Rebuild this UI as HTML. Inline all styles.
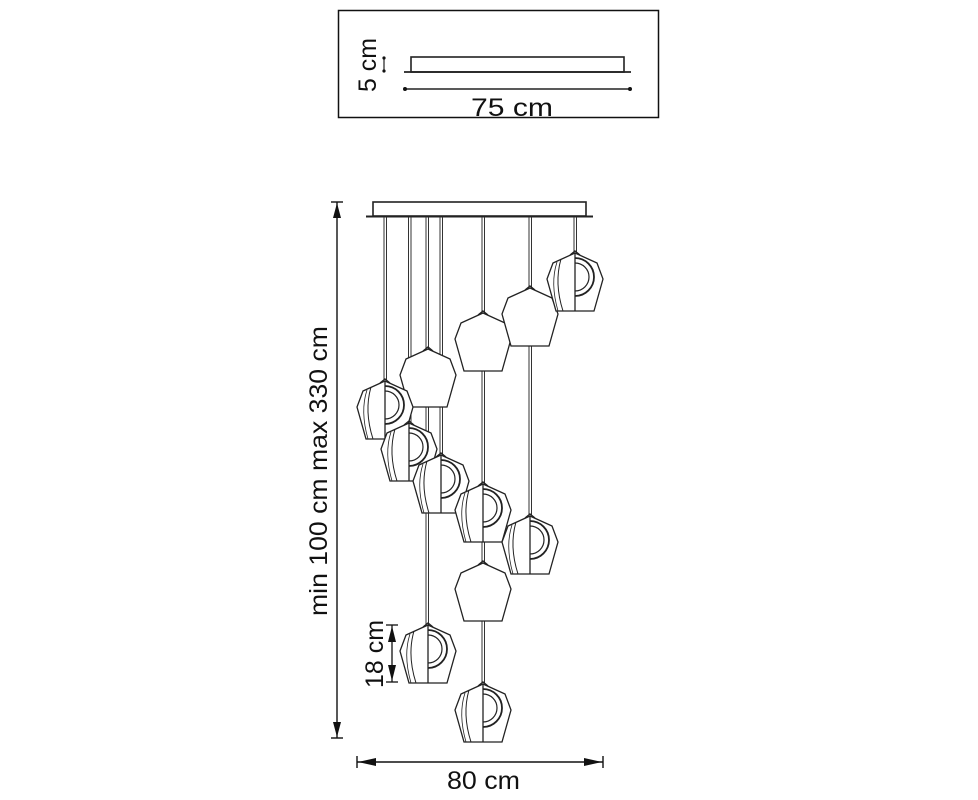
<!DOCTYPE html>
<html><head><meta charset="utf-8"><style>
html,body{margin:0;padding:0;background:#fff;}
svg{display:block;}
text{font-family:"Liberation Sans",sans-serif;fill:#111;}
</style></head><body>
<svg width="978" height="800" viewBox="0 0 978 800" xmlns="http://www.w3.org/2000/svg">
<defs>
<g id="plain" fill="#fff" stroke="#222" stroke-width="1.3">
  <path d="M0,0 L-22,10 L-28,26 L-19,58 L19,58 L28,26 L22,10 Z"/>
  <path d="M-5,2 L0,-2 L5,2" fill="none"/>
</g>
<g id="ring" fill="#fff" stroke="#222" stroke-width="1.3">
  <path d="M0,0 L-22,10 L-28,26 L-19,58 L19,58 L28,26 L22,10 Z"/>
  <path d="M-5,2 L0,-2 L5,2" fill="none"/>
  <path d="M0,0 L0,58" fill="none"/>
  <path d="M-14,6 Q-21,30 -12,58" fill="none" stroke-width="1"/>
  <path d="M-18,9 Q-25,30 -17,58" fill="none" stroke-width="0.8"/>
  <path d="M0,5 A19,19 0 1 1 0,43" fill="none" stroke-width="1.8"/>
  <path d="M0,10 A14,14 0 1 1 0,38" fill="none" stroke-width="1.2"/>
</g>
</defs>

<!-- top box -->
<rect x="338.5" y="10.5" width="320" height="107" fill="none" stroke="#111" stroke-width="1.5"/>
<rect x="411" y="57" width="213" height="15" fill="none" stroke="#222" stroke-width="1.6"/>
<line x1="404" y1="72" x2="631" y2="72" stroke="#222" stroke-width="1.8"/>
<line x1="405" y1="89" x2="630" y2="89" stroke="#222" stroke-width="1.4"/>
<circle cx="405" cy="89" r="2" fill="#111"/><circle cx="630" cy="89" r="2" fill="#111"/>
<line x1="384" y1="58" x2="384" y2="71" stroke="#222" stroke-width="1.2"/>
<circle cx="384" cy="58" r="1.6" fill="#111"/><circle cx="384" cy="71" r="1.6" fill="#111"/>
<text x="471" y="116" font-size="25" textLength="82" lengthAdjust="spacingAndGlyphs">75 cm</text>
<text transform="translate(376,92) rotate(-90)" font-size="25" textLength="54" lengthAdjust="spacingAndGlyphs">5 cm</text>

<!-- canopy -->
<rect x="373" y="202" width="213" height="14" fill="none" stroke="#222" stroke-width="1.6"/>
<line x1="366" y1="216.5" x2="593" y2="216.5" stroke="#222" stroke-width="2"/>

<!-- wires -->
<g stroke="#333" stroke-width="1" fill="none">
  <path d="M384,217V380 M386.5,217V380"/>
  <path d="M408.5,217V422 M411,217V422"/>
  <path d="M426,217V625 M428.5,217V625"/>
  <path d="M440,217V455 M442.5,217V455"/>
  <path d="M482,217V683 M484.5,217V683"/>
  <path d="M529,217V515 M531.5,217V515"/>
  <path d="M574,217V253 M576.5,217V253"/>
</g>

<!-- shades -->
<use href="#plain" x="428" y="349"/>
<use href="#plain" x="483" y="313"/>
<use href="#plain" x="530" y="288"/>
<use href="#ring" x="575" y="253"/>
<use href="#ring" x="385" y="381"/>
<use href="#ring" x="409" y="423"/>
<use href="#ring" x="441" y="455"/>
<use href="#ring" x="483" y="484"/>
<use href="#ring" x="530" y="516"/>
<use href="#plain" x="483" y="563"/>
<use href="#ring" x="428" y="625"/>
<use href="#ring" x="483" y="684"/>

<!-- vertical dimension -->
<g stroke="#111" stroke-width="1.4">
  <line x1="337" y1="202" x2="337" y2="738"/>
  <line x1="331" y1="202" x2="343" y2="202"/>
  <line x1="331" y1="738" x2="343" y2="738"/>
</g>
<path d="M337,203 L333,218 L341,218 Z M337,737 L333,722 L341,722 Z" fill="#111"/>
<text transform="translate(327,616) rotate(-90)" font-size="25" textLength="290" lengthAdjust="spacingAndGlyphs">min 100 cm max 330 cm</text>

<!-- 18 cm -->
<g stroke="#111" stroke-width="1.3">
  <line x1="392" y1="625" x2="392" y2="682"/>
  <line x1="386" y1="625" x2="398" y2="625"/>
  <line x1="386" y1="682" x2="398" y2="682"/>
</g>
<path d="M392,626 L388,642 L396,642 Z M392,681 L388,665 L396,665 Z" fill="#111"/>
<text transform="translate(383,688) rotate(-90)" font-size="25" textLength="68" lengthAdjust="spacingAndGlyphs">18 cm</text>

<!-- bottom dimension -->
<g stroke="#111" stroke-width="1.4">
  <line x1="357" y1="762" x2="603" y2="762"/>
  <line x1="357" y1="756" x2="357" y2="768"/>
  <line x1="603" y1="756" x2="603" y2="768"/>
</g>
<path d="M358,762 L376,758 L376,766 Z M602,762 L584,758 L584,766 Z" fill="#111"/>
<text x="447" y="789" font-size="25" textLength="73" lengthAdjust="spacingAndGlyphs">80 cm</text>
</svg>
</body></html>
